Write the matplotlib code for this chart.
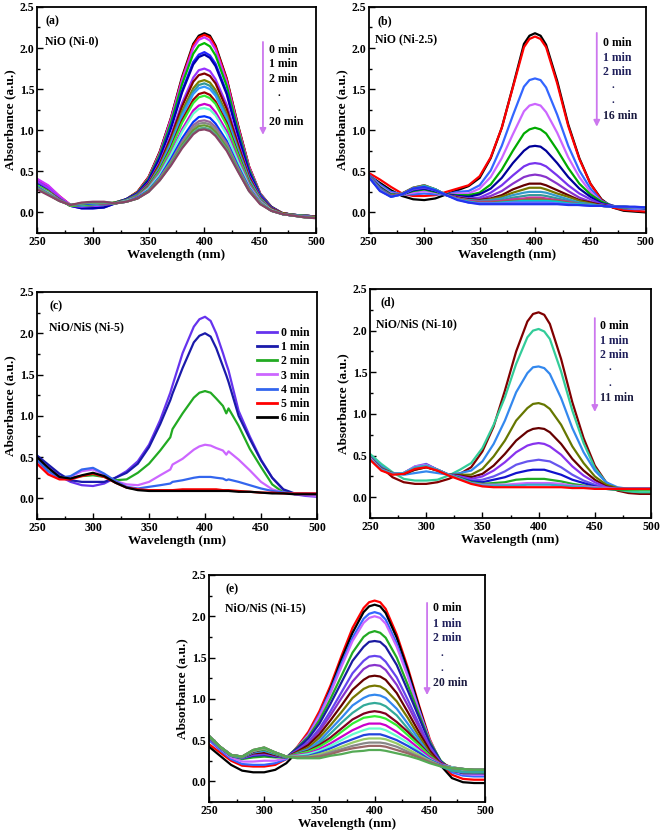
import matplotlib
matplotlib.use('Agg')
import matplotlib.pyplot as plt
from matplotlib.ticker import MultipleLocator
from matplotlib.lines import Line2D

plt.rcParams['font.family'] = ['Liberation Serif', 'DejaVu Serif']
plt.rcParams['font.weight'] = 'bold'

# wavelength grids (nm)
wl = [250, 260, 270, 280, 290, 300, 310, 320, 330, 340, 350, 360, 370, 380,
      390, 395, 400, 405, 410, 420, 430, 440, 450, 460, 470, 480, 490, 500]
wl_c = [250, 260, 270, 280, 290, 300, 310, 320, 330, 340, 350, 360, 369, 371,
        380, 390, 395, 400, 405, 410, 416, 419, 421, 430, 440, 450, 460, 470,
        480, 490, 500]

# (a) NiO (Ni-0), 0..20 min
abs_a = [
    [0.39, 0.31, 0.19, 0.09, 0.07, 0.08, 0.09, 0.12, 0.16, 0.25, 0.43, 0.74, 1.15, 1.65, 2.05, 2.15, 2.18, 2.15, 2.03, 1.63, 1.07, 0.56, 0.23, 0.07, -0.01, -0.03, -0.04, -0.05],
    [0.40, 0.32, 0.20, 0.09, 0.07, 0.08, 0.09, 0.12, 0.16, 0.25, 0.43, 0.73, 1.14, 1.63, 2.03, 2.13, 2.16, 2.13, 2.01, 1.62, 1.06, 0.56, 0.23, 0.06, -0.01, -0.03, -0.04, -0.05],
    [0.41, 0.33, 0.20, 0.09, 0.07, 0.07, 0.09, 0.12, 0.16, 0.24, 0.42, 0.72, 1.13, 1.61, 2.00, 2.10, 2.13, 2.09, 1.98, 1.59, 1.04, 0.55, 0.23, 0.06, -0.01, -0.03, -0.04, -0.05],
    [0.36, 0.28, 0.17, 0.08, 0.08, 0.10, 0.11, 0.12, 0.16, 0.24, 0.41, 0.70, 1.09, 1.56, 1.93, 2.03, 2.06, 2.02, 1.91, 1.54, 1.01, 0.53, 0.22, 0.06, -0.01, -0.03, -0.04, -0.05],
    [0.35, 0.27, 0.16, 0.08, 0.05, 0.05, 0.06, 0.11, 0.16, 0.23, 0.39, 0.67, 1.04, 1.48, 1.83, 1.92, 1.95, 1.91, 1.81, 1.46, 0.96, 0.50, 0.21, 0.06, -0.01, -0.03, -0.04, -0.05],
    [0.34, 0.26, 0.16, 0.08, 0.05, 0.05, 0.06, 0.11, 0.16, 0.23, 0.39, 0.66, 1.02, 1.46, 1.80, 1.89, 1.92, 1.88, 1.78, 1.44, 0.94, 0.49, 0.20, 0.05, -0.01, -0.03, -0.04, -0.05],
    [0.38, 0.30, 0.18, 0.08, 0.07, 0.08, 0.09, 0.11, 0.15, 0.22, 0.36, 0.61, 0.94, 1.33, 1.64, 1.73, 1.75, 1.72, 1.62, 1.31, 0.86, 0.45, 0.19, 0.05, -0.01, -0.03, -0.04, -0.05],
    [0.33, 0.26, 0.16, 0.08, 0.08, 0.09, 0.10, 0.11, 0.15, 0.21, 0.35, 0.59, 0.91, 1.29, 1.59, 1.67, 1.69, 1.66, 1.57, 1.26, 0.83, 0.43, 0.18, 0.05, -0.01, -0.03, -0.04, -0.05],
    [0.33, 0.26, 0.16, 0.08, 0.08, 0.09, 0.10, 0.11, 0.15, 0.21, 0.34, 0.57, 0.87, 1.23, 1.51, 1.59, 1.61, 1.58, 1.49, 1.20, 0.79, 0.41, 0.17, 0.04, -0.01, -0.03, -0.04, -0.05],
    [0.32, 0.25, 0.16, 0.08, 0.09, 0.10, 0.10, 0.11, 0.15, 0.21, 0.33, 0.55, 0.85, 1.20, 1.47, 1.55, 1.57, 1.54, 1.45, 1.17, 0.77, 0.40, 0.17, 0.04, -0.02, -0.03, -0.04, -0.05],
    [0.33, 0.25, 0.16, 0.08, 0.08, 0.09, 0.10, 0.11, 0.14, 0.20, 0.33, 0.54, 0.83, 1.17, 1.44, 1.51, 1.53, 1.50, 1.42, 1.14, 0.75, 0.39, 0.16, 0.04, -0.02, -0.04, -0.05, -0.05],
    [0.32, 0.25, 0.16, 0.08, 0.09, 0.10, 0.11, 0.11, 0.14, 0.20, 0.32, 0.52, 0.79, 1.12, 1.37, 1.44, 1.46, 1.43, 1.35, 1.09, 0.72, 0.37, 0.15, 0.04, -0.02, -0.04, -0.05, -0.05],
    [0.33, 0.25, 0.15, 0.08, 0.09, 0.10, 0.11, 0.11, 0.14, 0.20, 0.31, 0.51, 0.77, 1.09, 1.33, 1.40, 1.42, 1.39, 1.32, 1.06, 0.70, 0.36, 0.15, 0.03, -0.02, -0.04, -0.05, -0.06],
    [0.31, 0.24, 0.15, 0.09, 0.10, 0.11, 0.11, 0.11, 0.14, 0.19, 0.30, 0.48, 0.72, 1.01, 1.24, 1.30, 1.32, 1.30, 1.22, 0.99, 0.65, 0.34, 0.14, 0.03, -0.02, -0.04, -0.05, -0.06],
    [0.31, 0.24, 0.15, 0.09, 0.10, 0.11, 0.12, 0.11, 0.14, 0.18, 0.29, 0.46, 0.70, 0.98, 1.20, 1.26, 1.27, 1.25, 1.18, 0.95, 0.62, 0.32, 0.13, 0.03, -0.02, -0.04, -0.05, -0.06],
    [0.31, 0.23, 0.15, 0.09, 0.10, 0.11, 0.12, 0.11, 0.13, 0.18, 0.27, 0.43, 0.65, 0.90, 1.10, 1.16, 1.17, 1.15, 1.08, 0.87, 0.57, 0.30, 0.12, 0.02, -0.02, -0.04, -0.05, -0.06],
    [0.30, 0.23, 0.15, 0.09, 0.11, 0.12, 0.12, 0.11, 0.13, 0.17, 0.26, 0.42, 0.62, 0.86, 1.06, 1.11, 1.12, 1.10, 1.04, 0.84, 0.55, 0.29, 0.12, 0.02, -0.02, -0.04, -0.05, -0.06],
    [0.30, 0.22, 0.14, 0.09, 0.11, 0.12, 0.12, 0.11, 0.13, 0.17, 0.26, 0.41, 0.61, 0.84, 1.03, 1.08, 1.09, 1.07, 1.01, 0.81, 0.53, 0.28, 0.11, 0.02, -0.02, -0.04, -0.06, -0.06],
    [0.29, 0.22, 0.14, 0.09, 0.11, 0.12, 0.12, 0.11, 0.13, 0.17, 0.26, 0.40, 0.59, 0.82, 1.00, 1.05, 1.06, 1.04, 0.98, 0.79, 0.52, 0.27, 0.11, 0.02, -0.02, -0.04, -0.06, -0.06],
    [0.29, 0.22, 0.14, 0.09, 0.11, 0.12, 0.12, 0.11, 0.13, 0.17, 0.25, 0.39, 0.58, 0.80, 0.97, 1.02, 1.03, 1.01, 0.95, 0.77, 0.51, 0.26, 0.11, 0.02, -0.02, -0.04, -0.06, -0.07],
    [0.28, 0.21, 0.14, 0.09, 0.12, 0.13, 0.13, 0.11, 0.13, 0.17, 0.25, 0.39, 0.57, 0.78, 0.95, 1.00, 1.01, 0.99, 0.93, 0.75, 0.50, 0.26, 0.10, 0.02, -0.02, -0.04, -0.06, -0.07],
]
colors_a = ['#000000', '#ff0000', '#cc33ff', '#00bb00', '#2222ff', '#0000aa', '#9933ff',
            '#800000', '#808000', '#339999', '#3399ff', '#990000', '#33ee33', '#cc00cc',
            '#66ffcc', '#0033ff', '#996699', '#888888', '#669933', '#55aa88', '#884466']

# (b) NiO (Ni-2.5), 0..16 min
abs_b = [
    [0.45, 0.36, 0.27, 0.20, 0.16, 0.15, 0.17, 0.22, 0.27, 0.32, 0.42, 0.66, 1.03, 1.53, 2.05, 2.15, 2.18, 2.15, 2.04, 1.60, 1.07, 0.66, 0.35, 0.16, 0.06, 0.02, 0.01, 0.00],
    [0.48, 0.40, 0.31, 0.23, 0.20, 0.20, 0.21, 0.25, 0.29, 0.33, 0.44, 0.67, 1.03, 1.52, 2.01, 2.11, 2.14, 2.11, 2.01, 1.57, 1.05, 0.65, 0.35, 0.15, 0.06, 0.03, 0.02, 0.01],
    [0.46, 0.34, 0.25, 0.22, 0.22, 0.23, 0.22, 0.22, 0.25, 0.26, 0.33, 0.51, 0.81, 1.18, 1.53, 1.61, 1.63, 1.61, 1.52, 1.19, 0.81, 0.51, 0.29, 0.14, 0.08, 0.05, 0.04, 0.04],
    [0.45, 0.32, 0.23, 0.22, 0.24, 0.26, 0.24, 0.22, 0.23, 0.23, 0.29, 0.43, 0.66, 0.95, 1.23, 1.30, 1.32, 1.30, 1.22, 0.97, 0.67, 0.43, 0.25, 0.13, 0.08, 0.06, 0.05, 0.05],
    [0.45, 0.31, 0.22, 0.22, 0.26, 0.28, 0.25, 0.22, 0.21, 0.21, 0.24, 0.34, 0.52, 0.75, 0.96, 1.01, 1.03, 1.01, 0.96, 0.76, 0.54, 0.35, 0.22, 0.13, 0.08, 0.06, 0.06, 0.05],
    [0.45, 0.30, 0.21, 0.22, 0.27, 0.29, 0.26, 0.22, 0.20, 0.19, 0.22, 0.29, 0.42, 0.60, 0.75, 0.80, 0.81, 0.80, 0.75, 0.60, 0.43, 0.29, 0.19, 0.11, 0.08, 0.06, 0.06, 0.05],
    [0.45, 0.29, 0.21, 0.22, 0.28, 0.30, 0.27, 0.21, 0.19, 0.17, 0.18, 0.24, 0.33, 0.45, 0.56, 0.59, 0.60, 0.59, 0.56, 0.45, 0.33, 0.23, 0.16, 0.10, 0.08, 0.06, 0.06, 0.06],
    [0.45, 0.29, 0.20, 0.22, 0.29, 0.31, 0.27, 0.21, 0.18, 0.16, 0.16, 0.20, 0.26, 0.35, 0.43, 0.45, 0.46, 0.45, 0.43, 0.35, 0.26, 0.18, 0.13, 0.09, 0.07, 0.06, 0.06, 0.06],
    [0.44, 0.28, 0.20, 0.23, 0.29, 0.32, 0.28, 0.21, 0.18, 0.16, 0.15, 0.17, 0.21, 0.28, 0.33, 0.35, 0.35, 0.35, 0.33, 0.27, 0.21, 0.15, 0.12, 0.09, 0.07, 0.06, 0.06, 0.06],
    [0.44, 0.28, 0.20, 0.23, 0.29, 0.32, 0.28, 0.21, 0.17, 0.15, 0.14, 0.16, 0.19, 0.24, 0.28, 0.30, 0.30, 0.30, 0.28, 0.23, 0.19, 0.14, 0.11, 0.08, 0.07, 0.06, 0.06, 0.06],
    [0.44, 0.28, 0.20, 0.23, 0.30, 0.33, 0.28, 0.21, 0.17, 0.15, 0.14, 0.15, 0.17, 0.21, 0.24, 0.25, 0.25, 0.25, 0.24, 0.20, 0.16, 0.12, 0.10, 0.08, 0.07, 0.06, 0.06, 0.06],
    [0.44, 0.28, 0.20, 0.23, 0.30, 0.33, 0.28, 0.21, 0.17, 0.14, 0.13, 0.14, 0.15, 0.18, 0.20, 0.21, 0.21, 0.21, 0.20, 0.17, 0.14, 0.11, 0.09, 0.08, 0.07, 0.07, 0.06, 0.06],
    [0.43, 0.27, 0.20, 0.23, 0.29, 0.32, 0.28, 0.21, 0.17, 0.14, 0.13, 0.13, 0.14, 0.16, 0.17, 0.18, 0.18, 0.18, 0.17, 0.15, 0.13, 0.10, 0.09, 0.08, 0.07, 0.07, 0.06, 0.06],
    [0.43, 0.27, 0.20, 0.23, 0.30, 0.33, 0.28, 0.21, 0.17, 0.13, 0.12, 0.12, 0.13, 0.14, 0.15, 0.16, 0.16, 0.16, 0.15, 0.14, 0.12, 0.10, 0.09, 0.08, 0.07, 0.07, 0.06, 0.06],
    [0.43, 0.27, 0.19, 0.22, 0.29, 0.32, 0.28, 0.21, 0.16, 0.13, 0.11, 0.11, 0.12, 0.13, 0.14, 0.14, 0.14, 0.14, 0.14, 0.13, 0.11, 0.10, 0.09, 0.08, 0.07, 0.07, 0.06, 0.06],
    [0.43, 0.27, 0.19, 0.22, 0.29, 0.31, 0.27, 0.21, 0.16, 0.12, 0.11, 0.11, 0.11, 0.12, 0.12, 0.12, 0.12, 0.12, 0.12, 0.11, 0.10, 0.09, 0.08, 0.08, 0.07, 0.07, 0.06, 0.06],
    [0.43, 0.26, 0.19, 0.22, 0.29, 0.31, 0.27, 0.21, 0.15, 0.12, 0.10, 0.10, 0.10, 0.10, 0.10, 0.10, 0.10, 0.10, 0.10, 0.10, 0.09, 0.09, 0.08, 0.08, 0.07, 0.07, 0.07, 0.06],
]
colors_b = ['#000000', '#ff0000', '#3366ff', '#cc66ff', '#00aa00', '#000099', '#7733ee',
            '#8833cc', '#660000', '#777700', '#3399cc', '#339999', '#cc3399', '#996633',
            '#00cccc', '#6666ff', '#2233ee']

# (c) NiO/NiS (Ni-5), 0..6 min
abs_c = [
    [0.48, 0.38, 0.27, 0.20, 0.16, 0.15, 0.18, 0.25, 0.33, 0.45, 0.65, 0.95, 1.28, 1.37, 1.76, 2.08, 2.17, 2.20, 2.15, 2.00, 1.76, 1.63, 1.55, 1.06, 0.75, 0.47, 0.25, 0.10, 0.05, 0.03, 0.02],
    [0.52, 0.41, 0.30, 0.22, 0.20, 0.20, 0.20, 0.25, 0.31, 0.42, 0.62, 0.90, 1.19, 1.27, 1.58, 1.89, 1.97, 2.00, 1.96, 1.82, 1.60, 1.49, 1.41, 1.00, 0.72, 0.46, 0.25, 0.11, 0.06, 0.05, 0.04],
    [0.45, 0.33, 0.26, 0.25, 0.27, 0.28, 0.26, 0.22, 0.23, 0.31, 0.42, 0.58, 0.74, 0.84, 1.03, 1.22, 1.28, 1.30, 1.28, 1.21, 1.12, 1.03, 1.09, 0.88, 0.60, 0.38, 0.17, 0.07, 0.06, 0.06, 0.05],
    [0.43, 0.30, 0.25, 0.26, 0.33, 0.35, 0.29, 0.21, 0.17, 0.16, 0.20, 0.28, 0.35, 0.41, 0.48, 0.59, 0.63, 0.65, 0.64, 0.61, 0.58, 0.53, 0.57, 0.47, 0.34, 0.20, 0.11, 0.07, 0.05, 0.04, 0.03],
    [0.47, 0.33, 0.25, 0.27, 0.35, 0.37, 0.30, 0.21, 0.14, 0.12, 0.14, 0.16, 0.18, 0.20, 0.22, 0.25, 0.26, 0.26, 0.26, 0.25, 0.24, 0.22, 0.23, 0.20, 0.16, 0.12, 0.09, 0.07, 0.06, 0.06, 0.06],
    [0.42, 0.29, 0.23, 0.23, 0.27, 0.30, 0.26, 0.19, 0.13, 0.11, 0.10, 0.10, 0.10, 0.10, 0.11, 0.11, 0.11, 0.11, 0.11, 0.11, 0.10, 0.10, 0.10, 0.09, 0.08, 0.07, 0.07, 0.06, 0.06, 0.06, 0.06],
    [0.50, 0.37, 0.26, 0.24, 0.28, 0.31, 0.27, 0.19, 0.13, 0.10, 0.09, 0.09, 0.09, 0.09, 0.09, 0.09, 0.09, 0.09, 0.09, 0.09, 0.09, 0.09, 0.09, 0.08, 0.08, 0.07, 0.06, 0.06, 0.05, 0.05, 0.05],
]
colors_c = ['#6633ee', '#1a1aaa', '#22aa22', '#cc66ff', '#3366ee', '#ff0000', '#000000']
labels_c = ['0 min', '1 min', '2 min', '3 min', '4 min', '5 min', '6 min']

# (d) NiO/NiS (Ni-10), 0..11 min
abs_d = [
    [0.50, 0.36, 0.24, 0.18, 0.16, 0.16, 0.18, 0.22, 0.28, 0.36, 0.55, 0.85, 1.28, 1.75, 2.11, 2.20, 2.22, 2.19, 2.08, 1.66, 1.14, 0.71, 0.38, 0.18, 0.08, 0.05, 0.04, 0.04],
    [0.52, 0.40, 0.30, 0.22, 0.20, 0.20, 0.21, 0.26, 0.33, 0.41, 0.59, 0.87, 1.20, 1.60, 1.92, 2.00, 2.02, 1.99, 1.90, 1.51, 1.04, 0.65, 0.35, 0.18, 0.09, 0.07, 0.06, 0.06],
    [0.49, 0.37, 0.29, 0.27, 0.29, 0.31, 0.29, 0.27, 0.29, 0.32, 0.43, 0.64, 0.92, 1.26, 1.49, 1.56, 1.57, 1.55, 1.48, 1.19, 0.83, 0.54, 0.32, 0.18, 0.12, 0.10, 0.10, 0.10],
    [0.48, 0.35, 0.29, 0.28, 0.33, 0.36, 0.32, 0.27, 0.27, 0.27, 0.34, 0.49, 0.68, 0.92, 1.07, 1.12, 1.13, 1.11, 1.06, 0.87, 0.61, 0.41, 0.25, 0.15, 0.11, 0.10, 0.10, 0.10],
    [0.47, 0.34, 0.28, 0.28, 0.33, 0.36, 0.32, 0.27, 0.26, 0.24, 0.28, 0.38, 0.52, 0.68, 0.79, 0.82, 0.83, 0.82, 0.78, 0.64, 0.46, 0.32, 0.21, 0.13, 0.10, 0.10, 0.10, 0.10],
    [0.47, 0.34, 0.28, 0.29, 0.36, 0.39, 0.33, 0.27, 0.25, 0.22, 0.25, 0.32, 0.42, 0.54, 0.62, 0.64, 0.65, 0.64, 0.61, 0.51, 0.37, 0.26, 0.18, 0.12, 0.10, 0.10, 0.10, 0.10],
    [0.47, 0.33, 0.28, 0.29, 0.37, 0.40, 0.33, 0.27, 0.24, 0.20, 0.21, 0.25, 0.31, 0.39, 0.43, 0.44, 0.45, 0.44, 0.43, 0.36, 0.27, 0.20, 0.15, 0.11, 0.10, 0.10, 0.10, 0.10],
    [0.46, 0.33, 0.28, 0.29, 0.36, 0.39, 0.33, 0.27, 0.23, 0.19, 0.18, 0.21, 0.24, 0.29, 0.32, 0.33, 0.33, 0.33, 0.31, 0.27, 0.21, 0.17, 0.13, 0.10, 0.09, 0.10, 0.10, 0.10],
    [0.46, 0.33, 0.28, 0.29, 0.36, 0.38, 0.33, 0.27, 0.23, 0.18, 0.16, 0.17, 0.18, 0.21, 0.22, 0.22, 0.22, 0.22, 0.21, 0.19, 0.16, 0.14, 0.12, 0.10, 0.09, 0.09, 0.09, 0.09],
    [0.47, 0.33, 0.28, 0.29, 0.37, 0.39, 0.33, 0.27, 0.22, 0.17, 0.15, 0.15, 0.15, 0.16, 0.17, 0.17, 0.17, 0.17, 0.17, 0.16, 0.14, 0.13, 0.12, 0.11, 0.10, 0.10, 0.10, 0.10],
    [0.46, 0.33, 0.28, 0.29, 0.36, 0.38, 0.33, 0.27, 0.22, 0.17, 0.14, 0.14, 0.14, 0.14, 0.15, 0.15, 0.15, 0.15, 0.15, 0.14, 0.13, 0.12, 0.11, 0.10, 0.10, 0.10, 0.10, 0.10],
    [0.45, 0.32, 0.27, 0.28, 0.34, 0.36, 0.32, 0.26, 0.21, 0.16, 0.13, 0.12, 0.12, 0.12, 0.12, 0.12, 0.12, 0.12, 0.12, 0.12, 0.11, 0.11, 0.10, 0.10, 0.10, 0.10, 0.10, 0.10],
]
colors_d = ['#800000', '#33cc99', '#3388ee', '#667700', '#660000', '#8833ee',
            '#6655ee', '#1111cc', '#22aa22', '#cc66ff', '#33aacc', '#ff0000']

# (e) NiO/NiS (Ni-15), 0..20 min
abs_e = [
    [0.45, 0.35, 0.25, 0.19, 0.18, 0.18, 0.20, 0.27, 0.42, 0.60, 0.85, 1.16, 1.52, 1.86, 2.10, 2.17, 2.19, 2.17, 2.09, 1.78, 1.38, 0.93, 0.51, 0.22, 0.08, 0.03, 0.02, 0.02],
    [0.42, 0.31, 0.20, 0.13, 0.11, 0.11, 0.14, 0.22, 0.36, 0.54, 0.80, 1.12, 1.48, 1.80, 2.05, 2.12, 2.14, 2.12, 2.04, 1.74, 1.35, 0.91, 0.48, 0.19, 0.04, -0.01, -0.02, -0.02],
    [0.50, 0.38, 0.27, 0.21, 0.20, 0.20, 0.22, 0.27, 0.41, 0.57, 0.81, 1.10, 1.43, 1.74, 1.97, 2.03, 2.05, 2.03, 1.96, 1.67, 1.29, 0.88, 0.49, 0.23, 0.11, 0.07, 0.06, 0.06],
    [0.52, 0.40, 0.29, 0.24, 0.24, 0.25, 0.25, 0.28, 0.41, 0.56, 0.79, 1.07, 1.39, 1.70, 1.92, 1.98, 2.00, 1.98, 1.91, 1.63, 1.27, 0.86, 0.49, 0.24, 0.13, 0.09, 0.08, 0.08],
    [0.53, 0.41, 0.31, 0.27, 0.29, 0.30, 0.29, 0.29, 0.41, 0.54, 0.74, 1.00, 1.28, 1.56, 1.75, 1.80, 1.82, 1.80, 1.74, 1.50, 1.17, 0.82, 0.48, 0.25, 0.14, 0.10, 0.10, 0.10],
    [0.53, 0.41, 0.31, 0.28, 0.31, 0.32, 0.30, 0.29, 0.40, 0.52, 0.70, 0.94, 1.20, 1.46, 1.63, 1.69, 1.70, 1.69, 1.63, 1.41, 1.10, 0.78, 0.46, 0.24, 0.14, 0.10, 0.10, 0.10],
    [0.53, 0.41, 0.31, 0.28, 0.32, 0.33, 0.31, 0.29, 0.38, 0.48, 0.64, 0.85, 1.08, 1.31, 1.46, 1.51, 1.52, 1.51, 1.45, 1.26, 0.99, 0.70, 0.42, 0.23, 0.14, 0.11, 0.10, 0.10],
    [0.53, 0.41, 0.31, 0.29, 0.33, 0.34, 0.31, 0.29, 0.37, 0.46, 0.61, 0.80, 1.01, 1.21, 1.36, 1.40, 1.41, 1.40, 1.35, 1.17, 0.92, 0.66, 0.39, 0.22, 0.13, 0.11, 0.10, 0.10],
    [0.54, 0.41, 0.31, 0.29, 0.34, 0.35, 0.32, 0.29, 0.36, 0.44, 0.57, 0.74, 0.92, 1.11, 1.23, 1.27, 1.28, 1.27, 1.23, 1.07, 0.84, 0.60, 0.37, 0.21, 0.13, 0.11, 0.11, 0.10],
    [0.54, 0.41, 0.31, 0.29, 0.35, 0.37, 0.33, 0.29, 0.35, 0.41, 0.53, 0.68, 0.84, 1.01, 1.12, 1.15, 1.16, 1.15, 1.11, 0.97, 0.77, 0.55, 0.34, 0.20, 0.13, 0.11, 0.11, 0.11],
    [0.54, 0.41, 0.31, 0.29, 0.35, 0.37, 0.33, 0.29, 0.34, 0.39, 0.49, 0.63, 0.77, 0.92, 1.01, 1.04, 1.05, 1.04, 1.01, 0.88, 0.70, 0.51, 0.32, 0.19, 0.13, 0.11, 0.11, 0.11],
    [0.54, 0.41, 0.31, 0.29, 0.36, 0.38, 0.34, 0.29, 0.33, 0.37, 0.46, 0.58, 0.71, 0.83, 0.92, 0.94, 0.95, 0.94, 0.91, 0.80, 0.64, 0.47, 0.30, 0.18, 0.13, 0.12, 0.11, 0.11],
    [0.55, 0.42, 0.32, 0.30, 0.36, 0.39, 0.34, 0.30, 0.33, 0.37, 0.44, 0.53, 0.64, 0.75, 0.82, 0.84, 0.85, 0.84, 0.82, 0.72, 0.60, 0.46, 0.32, 0.22, 0.17, 0.15, 0.14, 0.14],
    [0.55, 0.42, 0.32, 0.30, 0.37, 0.39, 0.34, 0.30, 0.33, 0.36, 0.42, 0.50, 0.60, 0.70, 0.77, 0.78, 0.79, 0.78, 0.76, 0.68, 0.56, 0.44, 0.31, 0.21, 0.17, 0.15, 0.14, 0.14],
    [0.55, 0.42, 0.32, 0.30, 0.37, 0.40, 0.35, 0.30, 0.32, 0.34, 0.39, 0.46, 0.54, 0.62, 0.68, 0.70, 0.70, 0.70, 0.68, 0.60, 0.51, 0.40, 0.29, 0.21, 0.17, 0.15, 0.14, 0.14],
    [0.55, 0.42, 0.32, 0.30, 0.37, 0.40, 0.35, 0.30, 0.31, 0.33, 0.37, 0.43, 0.50, 0.57, 0.62, 0.64, 0.64, 0.64, 0.62, 0.55, 0.47, 0.37, 0.27, 0.20, 0.17, 0.15, 0.14, 0.14],
    [0.55, 0.42, 0.32, 0.30, 0.37, 0.40, 0.35, 0.30, 0.30, 0.31, 0.35, 0.40, 0.46, 0.51, 0.56, 0.57, 0.57, 0.57, 0.55, 0.50, 0.43, 0.35, 0.26, 0.20, 0.16, 0.15, 0.14, 0.14],
    [0.55, 0.42, 0.32, 0.30, 0.37, 0.40, 0.35, 0.30, 0.30, 0.30, 0.33, 0.37, 0.42, 0.47, 0.51, 0.52, 0.52, 0.52, 0.51, 0.46, 0.39, 0.32, 0.25, 0.19, 0.16, 0.15, 0.14, 0.14],
    [0.55, 0.42, 0.32, 0.30, 0.38, 0.41, 0.35, 0.30, 0.29, 0.29, 0.31, 0.35, 0.39, 0.43, 0.46, 0.47, 0.47, 0.47, 0.46, 0.42, 0.36, 0.30, 0.24, 0.19, 0.16, 0.15, 0.14, 0.14],
    [0.55, 0.42, 0.32, 0.30, 0.38, 0.41, 0.35, 0.30, 0.29, 0.29, 0.30, 0.33, 0.37, 0.40, 0.42, 0.43, 0.43, 0.43, 0.42, 0.38, 0.34, 0.29, 0.23, 0.19, 0.16, 0.15, 0.14, 0.14],
    [0.55, 0.42, 0.32, 0.30, 0.38, 0.41, 0.35, 0.30, 0.28, 0.28, 0.28, 0.31, 0.33, 0.36, 0.37, 0.38, 0.38, 0.38, 0.37, 0.34, 0.31, 0.27, 0.22, 0.18, 0.16, 0.15, 0.14, 0.14],
]
colors_e = ['#ff0000', '#000000', '#3366ff', '#cc66ff', '#22aa22', '#1a1aa0', '#6644ee',
            '#8833cc', '#660000', '#777700', '#3388ee', '#33aa99', '#800020', '#33ee33',
            '#cc00cc', '#66ffcc', '#2244dd', '#99cc66', '#888888', '#996666', '#55aa55']

time_a = ['0 min', '1 min', '2 min', '.', '.', '20 min']
time_b = ['0 min', '1 min', '2 min', '.', '.', '16 min']
time_d = ['0 min', '1 min', '2 min', '.', '.', '11 min']
time_e = ['0 min', '1 min', '2 min', '.', '.', '20 min']

fig = plt.figure(figsize=(6.61, 8.35), dpi=100)
ax_a = fig.add_axes([0.056, 0.721, 0.422, 0.2707])
ax_b = fig.add_axes([0.558, 0.721, 0.419, 0.2707])
ax_c = fig.add_axes([0.056, 0.3784, 0.4236, 0.2719])
ax_d = fig.add_axes([0.5598, 0.3796, 0.4251, 0.2743])
ax_e = fig.add_axes([0.3162, 0.0395, 0.4176, 0.2719])


def style_axes(ax):
    ax.set_xlim(250, 500)
    ax.set_ylim(-0.25, 2.5)
    ax.xaxis.set_major_locator(MultipleLocator(50))
    ax.xaxis.set_minor_locator(MultipleLocator(25))
    ax.yaxis.set_major_locator(MultipleLocator(0.5))
    ax.yaxis.set_minor_locator(MultipleLocator(0.25))
    ax.tick_params(which='both', direction='in', top=False, right=False,
                   labelsize=8.5, width=1.0, pad=2)
    ax.tick_params(which='major', length=4)
    ax.tick_params(which='minor', length=2.5)
    for s in ax.spines.values():
        s.set_linewidth(1.3)
    ax.set_xlabel('Wavelength (nm)', fontsize=9.5, fontweight='bold', labelpad=1)
    ax.set_ylabel('Absorbance (a.u.)', fontsize=9.5, fontweight='bold', labelpad=2)


def draw_curves(ax, x, rows, cols):
    lines = []
    for r, c in zip(rows, cols):
        ln, = ax.plot(x, r, color=c, lw=1.6, solid_joinstyle='round')
        lines.append(ln)
    return lines


def arrow_legend(ax, labels, ax_x, top, bottom, tx, tys, tcols):
    ax.annotate('', xy=(ax_x, bottom), xytext=(ax_x, top), xycoords='axes fraction',
                arrowprops=dict(arrowstyle='-|>', color='#cc77ee', lw=1.3,
                                mutation_scale=9, shrinkA=0, shrinkB=0))
    for lab, y, c in zip(labels, tys, tcols):
        if lab == '.':
            ax.text(tx + 0.03, y + 0.006, lab, transform=ax.transAxes, fontsize=8,
                    fontweight='bold', va='center', ha='left', color=c)
        else:
            ax.text(tx, y, lab, transform=ax.transAxes, fontsize=8.5,
                    fontweight='bold', va='center', ha='left', color=c)


def panel_text(ax, tag, name, x1, y1, x2, y2):
    ax.text(x1, y1, tag, transform=ax.transAxes, fontsize=8.5, fontweight='bold',
            va='center', ha='left')
    ax.text(x2, y2, name, transform=ax.transAxes, fontsize=8.5, fontweight='bold',
            va='center', ha='left')


navy = '#1e1e5a'

# (a)
draw_curves(ax_a, wl, abs_a, colors_a)
style_axes(ax_a)
panel_text(ax_a, '(a)', 'NiO (Ni-0)', 0.032, 0.935, 0.029, 0.85)
arrow_legend(ax_a, time_a, 0.81, 0.845, 0.434, 0.832,
             [0.81, 0.748, 0.681, 0.61, 0.544, 0.491], ['k'] * 6)

# (b)
draw_curves(ax_b, wl, abs_b, colors_b)
style_axes(ax_b)
panel_text(ax_b, '(b)', 'NiO (Ni-2.5)', 0.033, 0.935, 0.022, 0.855)
arrow_legend(ax_b, time_b, 0.823, 0.885, 0.47, 0.845,
             [0.84, 0.775, 0.712, 0.646, 0.58, 0.518], ['k', navy, navy, navy, navy, '#1a1a40'])

# (c)
draw_curves(ax_c, wl_c, abs_c, colors_c)
style_axes(ax_c)
panel_text(ax_c, '(c)', 'NiO/NiS (Ni-5)', 0.043, 0.935, 0.043, 0.843)
handles = [Line2D([], [], color=c, lw=2.0) for c in colors_c]
ax_c.legend(handles, labels_c, loc='upper right', bbox_to_anchor=(0.975, 0.845),
            frameon=False, prop={'weight': 'bold', 'size': 8.5}, handlelength=1.7,
            handletextpad=0.4, labelspacing=0.18, borderpad=0, borderaxespad=0)

# (d)
draw_curves(ax_d, wl, abs_d, colors_d)
style_axes(ax_d)
panel_text(ax_d, '(d)', 'NiO/NiS (Ni-10)', 0.036, 0.94, 0.021, 0.848)
arrow_legend(ax_d, time_d, 0.80, 0.873, 0.463, 0.819,
             [0.838, 0.773, 0.712, 0.65, 0.58, 0.524], ['k', navy, navy, navy, navy, '#1a1a40'])

# (e)
draw_curves(ax_e, wl, abs_e, colors_e)
style_axes(ax_e)
panel_text(ax_e, '(e)', 'NiO/NiS (Ni-15)', 0.058, 0.938, 0.058, 0.852)
arrow_legend(ax_e, time_e, 0.79, 0.877, 0.471, 0.81,
             [0.855, 0.784, 0.722, 0.648, 0.58, 0.524], ['k', navy, navy, navy, navy, '#1a1a40'])

fig.savefig('out.png', dpi=100)
